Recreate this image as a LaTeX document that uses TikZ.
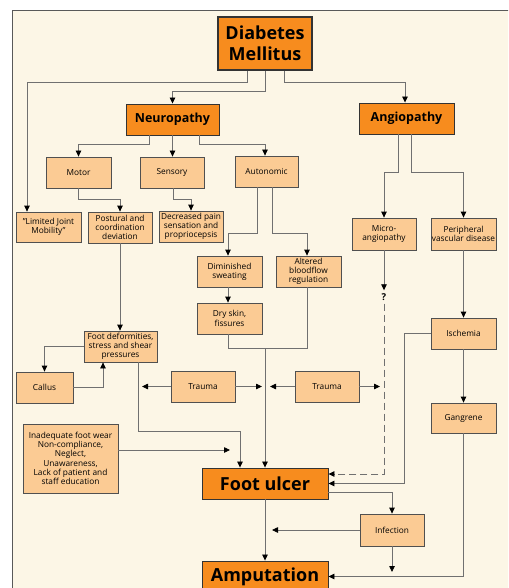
\documentclass[tikz,border=0pt]{standalone}
\usepackage{fontspec}
\setmainfont{Open Sans}
\usetikzlibrary{arrows.meta,calc}
\definecolor{cream}{HTML}{FCF6E6}
\definecolor{peach}{HTML}{FBCB94}
\definecolor{orng}{HTML}{F78C1E}
\definecolor{linegray}{HTML}{707070}
\definecolor{bordergray}{HTML}{505050}
\tikzset{
  lbox/.style={draw=bordergray, line width=0.8pt, fill=peach, inner sep=0pt, align=center,
    font=\fontsize{8.3}{9.3}\selectfont},
  obox/.style={draw=black!80, line width=0.9pt, fill=orng, inner sep=0pt, align=center,
    font=\bfseries\fontsize{12.5}{14}\selectfont},
  conn/.style={draw=linegray, line width=0.8pt},
  arr/.style={conn, -{Triangle[length=6pt,width=5.5pt,black]}},
  darr/.style={arr, dash pattern=on 7pt off 4pt},
}
\begin{document}
\begin{tikzpicture}[x=1pt,y=-1pt]
\useasboundingbox (0,0) rectangle (508,588);
\clip (0,0) rectangle (508,588);
\fill[white] (0,0) rectangle (508,588);
\draw[fill=cream, draw=black!65, line width=1pt] (12,11) rectangle (530,610);

% main nodes
\node[obox, line width=1.3pt, minimum width=94pt, minimum height=53pt, font=\bfseries\fontsize{18}{20.5}\selectfont] (dm) at (265,43.5) {Diabetes\\Mellitus};
\node[obox, minimum width=93pt, minimum height=31pt] (neu) at (172.5,119.5) {Neuropathy};
\node[obox, minimum width=95pt, minimum height=31pt] (ang) at (406.5,118.5) {Angiopathy};

\node[lbox, minimum width=65pt, minimum height=31pt] (motor) at (78.5,172.5) {Motor};
\node[lbox, minimum width=64pt, minimum height=31pt] (sens) at (172,172.5) {Sensory};
\node[lbox, minimum width=63pt, minimum height=31pt] (auto) at (266.5,171.5) {Autonomic};

\node[lbox, minimum width=65pt, minimum height=30pt] (ljm) at (48.5,227) {"Limited Joint\\Mobility"};
\node[lbox, minimum width=64pt, minimum height=31pt] (post) at (120,227.5) {Postural and\\coordination\\deviation};
\node[lbox, minimum width=64pt, minimum height=31pt] (decr) at (191,226.5) {Decreased pain\\sensation and\\propriocepsis};

\node[lbox, minimum width=64pt, minimum height=32pt] (micro) at (384,234) {Micro-\\angiopathy};
\node[lbox, minimum width=65pt, minimum height=32pt] (periph) at (463.5,234) {Peripheral\\vascular disease};

\node[lbox, minimum width=65pt, minimum height=31pt] (dimin) at (229.5,271.5) {Diminished\\sweating};
\node[lbox, minimum width=65pt, minimum height=31pt] (alt) at (308.5,271.5) {Altered\\bloodflow\\regulation};
\node[lbox, minimum width=65pt, minimum height=31pt] (dry) at (229.5,318.5) {Dry skin,\\fissures};

\node[lbox, minimum width=73pt, minimum height=31pt] (fdef) at (120.5,346.5) {Foot deformities,\\stress and shear\\pressures};
\node[lbox, minimum width=65pt, minimum height=31pt] (isch) at (463.5,333.5) {Ischemia};

\node[lbox, minimum width=57pt, minimum height=31pt] (callus) at (44.5,387.5) {Callus};
\node[lbox, minimum width=64pt, minimum height=31pt] (tr1) at (203,386.5) {Trauma};
\node[lbox, minimum width=64pt, minimum height=31pt] (tr2) at (327,386.5) {Trauma};
\node[lbox, minimum width=65pt, minimum height=30pt] (gang) at (463.5,418) {Gangrene};

\node[lbox, minimum width=95pt, minimum height=69pt] (inad) at (70.5,458.5) {Inadequate foot wear\\Non-compliance,\\Neglect,\\Unawareness,\\Lack of patient and\\staff education};

\node[obox, minimum width=126pt, minimum height=31pt, font=\bfseries\fontsize{18}{20}\selectfont] (fu) at (265,483.5) {Foot ulcer};
\node[lbox, minimum width=64pt, minimum height=32pt] (inf) at (392,530) {Infection};
\node[obox, minimum width=126pt, minimum height=31pt, font=\bfseries\fontsize{18}{20}\selectfont] (amp) at (265,576.5) {Amputation};

\node[inner sep=0pt, font=\bfseries\fontsize{9.5}{10}\selectfont] (q) at (384,297) {?};

% free ends
\coordinate (m1) at (265,348);
\coordinate (e1) at (230,450);
\coordinate (t1l) at (142,386.5);
\coordinate (t1r) at (262,386.5);
\coordinate (t2l) at (270,386.5);
\coordinate (t2r) at (380,386.5);
\coordinate (infl) at (272,530);
\coordinate (infb) at (392,572);

% connectors
\draw[arr] ([xshift=-18pt]dm.south) -- ++(0,12) -| ([xshift=-21.5pt]ljm.north);
\draw[arr] (dm.south) -- ++(0,21) -| (neu.north);
\draw[arr] ([xshift=19pt]dm.south) -- ++(0,12) -| ([xshift=-1.5pt]ang.north);

\draw[arr] ([xshift=-23.5pt]neu.south) -- ++(0,9) -| (motor.north);
\draw[arr] (neu.south) -- (neu.south |- sens.north);
\draw[arr] ([xshift=26.5pt]neu.south) -- ++(0,9) -| ([xshift=-1.5pt]auto.north);

\draw[arr] (motor.south) -- ++(0,11) -| (post.north);
\draw[arr] ([xshift=1pt]sens.south) -- ++(0,11) -| (decr.north);
\draw[arr] ([xshift=-9.5pt]auto.south) -- ++(0,46) -| ([xshift=-1.5pt]dimin.north);
\draw[arr] ([xshift=6pt]auto.south) -- ++(0,46) -| ([xshift=-1.5pt]alt.north);
\draw[arr] ([xshift=-1.5pt]dimin.south) -- ([xshift=-1.5pt]dry.north);
\draw[conn] ([xshift=-1.5pt]dry.south) |- (m1);
\draw[conn] ([xshift=-1.5pt]alt.south) |- (m1);
\draw[arr] (m1) -- (fu.north);

\draw[arr] (post.south) -- (post.south |- fdef.north);
\draw[arr] (fdef.west) -| (callus.north);
\draw[arr] (callus.east) -| ([xshift=-17.5pt]fdef.south);
\draw[arr] ([xshift=17.5pt]fdef.south) -- ++(0,69) -| ([xshift=-25pt]fu.north);
\draw[arr] ([yshift=8.5pt]inad.east) -- (e1);

\draw[arr] (tr1.west) -- (t1l);
\draw[arr] (tr1.east) -- (t1r);
\draw[arr] (tr2.west) -- (t2l);
\draw[arr] (tr2.east) -- (t2r);

\draw[arr] ([xshift=-8.5pt]ang.south) -- ++(0,38) -| (micro.north);
\draw[arr] ([xshift=4.5pt]ang.south) -- ++(0,38) -| (periph.north);
\draw[arr] (micro.south) -- ([yshift=3pt]q.north);
\draw[darr] ([yshift=-3pt]q.south) |- ([yshift=9.5pt]fu.east);

\draw[arr] (periph.south) -- (isch.north);
\draw[arr] (isch.west) -- ++(-26,0) |- (fu.east);
\draw[arr] (isch.south) -- (gang.north);
\draw[arr] (gang.south) |- (amp.east);

\draw[arr] ([yshift=-8.5pt]fu.east) -| (inf.north);
\draw[arr] (inf.west) -- (infl);
\draw[arr] (inf.south) -- (infb);
\draw[arr] (fu.south) -- (amp.north);
\end{tikzpicture}
\end{document}
